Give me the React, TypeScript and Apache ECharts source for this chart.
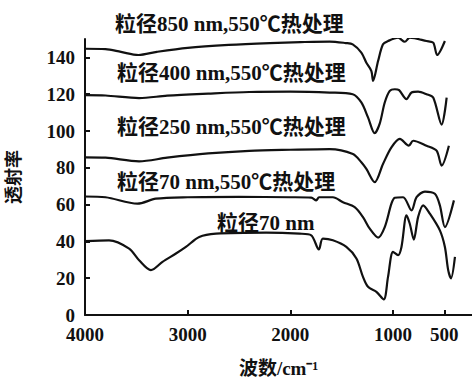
import React, { useEffect, useRef } from "react";
import * as echarts from "echarts";

// wavenumber (cm-1), transmittance
const curve850: [number, number][] = [
  [4000, 144.7], [3800, 144.5], [3650, 143], [3480, 141.3], [3300, 143], [3000, 145.2],
  [2600, 146.8], [2200, 147.8], [1900, 148.3], [1617, 148.6], [1460, 147.8], [1392, 147.1],
  [1308, 142.6], [1259, 137.1], [1210, 132.6], [1194, 127.2], [1145, 138], [1097, 147.1],
  [1048, 148.9], [950, 150.7], [885, 148.5], [836, 150.7], [673, 148.9], [608, 148],
  [569, 141.3], [494, 148.9],
];
const curve400: [number, number][] = [
  [4000, 119.5], [3800, 119.3], [3473, 117.9], [3200, 119.2], [2800, 120.3], [2400, 121.2],
  [2000, 121.4], [1617, 120.9], [1392, 120], [1308, 115.5], [1243, 107.4], [1178, 98.8],
  [1129, 104], [1080, 115.5], [1031, 121.8], [982, 122.7], [940, 122.2], [868, 117.3],
  [819, 120.9], [755, 121.4], [673, 120], [608, 118.2], [526, 103.5], [477, 118.2],
];
const curve250: [number, number][] = [
  [4000, 85.7], [3800, 85.5], [3473, 83.5], [3200, 85.5], [2800, 87.8], [2400, 89.2],
  [2000, 89.8], [1617, 90.2], [1390, 87.5], [1308, 83], [1259, 79.4], [1178, 72.2],
  [1097, 82.1], [1015, 91.1], [933, 95.7], [846, 92], [803, 94.7], [673, 92], [575, 89.3],
  [526, 81.2], [455, 92],
];
const curve70h: [number, number][] = [
  [4000, 64.4], [3800, 64], [3489, 60.5], [3310, 63.2], [3000, 64], [2500, 64.2],
  [2000, 64], [1796, 63.8], [1747, 62.3], [1720, 64], [1585, 64], [1487, 61.3],
  [1373, 58.6], [1292, 53.2], [1226, 46.9], [1145, 42.1], [1080, 47.8], [1015, 60.5],
  [982, 63.7], [901, 64], [819, 56.8], [770, 64], [689, 67.1], [592, 65.9], [543, 59.6],
  [494, 47.8], [406, 62.3],
];
const curve70: [number, number][] = [
  [4000, 40.1], [3766, 40.6], [3570, 36.1], [3473, 29.8], [3358, 24.4], [3245, 28.9],
  [3114, 33.4], [3017, 37], [2887, 42.4], [2724, 44.2], [2235, 44.8], [1910, 44.2],
  [1796, 43.3], [1722, 35.6], [1683, 41.5], [1585, 40.6], [1454, 37], [1356, 30.7],
  [1292, 20.7], [1243, 15.3], [1161, 12.6], [1090, 8.5], [1048, 20.7], [999, 34.3],
  [950, 32.5], [917, 37], [868, 54.1], [836, 49.6], [797, 41], [755, 53.2], [706, 59.6],
  [641, 55.1], [543, 46], [494, 37], [462, 24.4], [435, 19.9], [396, 31.6],
];

const xTicks = [4000, 3000, 2000, 1000, 500];
const curveLabels = [
  "粒径850 nm,550℃热处理",
  "粒径400 nm,550℃热处理",
  "粒径250 nm,550℃热处理",
  "粒径70 nm,550℃热处理",
  "粒径70 nm",
];

const SERIF = '"Liberation Serif", "Noto Sans CJK SC", serif';

export default function App() {
  const ref = useRef<HTMLDivElement>(null);
  useEffect(() => {
    if (!ref.current) return;
    const chart = echarts.init(ref.current, null, { renderer: "svg" });
    const curves = [curve850, curve400, curve250, curve70h, curve70];
    const labelPos = [
      [115, 24],
      [117, 73],
      [117, 127],
      [117, 182],
      [217, 223],
    ];
    chart.setOption({
      animation: false,
      backgroundColor: "#fff",
      grid: { left: 85, right: 0, top: 39, bottom: 64, containLabel: false, outerBoundsMode: "none" },
      xAxis: {
        type: "value",
        inverse: true,
        min: 230,
        max: 4000,
        name: "波数/cm⁻¹",
        nameLocation: "middle",
        nameGap: 44,
        nameTextStyle: { fontSize: 19, fontWeight: "bold", color: "#111", fontFamily: SERIF },
        axisLine: { show: true, lineStyle: { color: "#111", width: 2 } },
        axisTick: {
          show: true,
          inside: true,
          length: 5,
          customValues: xTicks,
          lineStyle: { color: "#111", width: 2 },
        },
        axisLabel: {
          customValues: xTicks,
          formatter: (v: number) => String(v),
          fontSize: 19,
          fontWeight: "bold",
          color: "#111",
          fontFamily: SERIF,
          margin: 10,
        },
        splitLine: { show: false },
      },
      yAxis: {
        type: "value",
        min: 0,
        max: 150,
        interval: 20,
        name: "透射率",
        nameLocation: "middle",
        nameGap: 62,
        nameTextStyle: { fontSize: 18, fontWeight: "bold", color: "#111", fontFamily: SERIF },
        axisLine: { show: true, lineStyle: { color: "#111", width: 2 } },
        axisTick: { show: true, inside: true, length: 5, lineStyle: { color: "#111", width: 2 } },
        axisLabel: {
          formatter: (v: number) => String(v),
          fontSize: 19,
          fontWeight: "bold",
          color: "#111",
          fontFamily: SERIF,
          margin: 10,
        },
        splitLine: { show: false },
      },
      series: curves.map((c, i) => ({
        type: "line",
        name: curveLabels[i],
        data: c,
        smooth: 0.3,
        showSymbol: false,
        lineStyle: { color: "#111", width: 2.2 },
      })),
      graphic: curveLabels.map((t, i) => ({
        type: "text",
        x: labelPos[i][0],
        y: labelPos[i][1],
        style: {
          text: t,
          fill: "#111",
          font: `bold 21px ${SERIF}`,
          textAlign: "left",
          textVerticalAlign: "middle",
        },
      })),
    });
    return () => chart.dispose();
  }, []);
  return (
    <div
      ref={ref}
      style={{ position: "fixed", left: 0, top: 0, width: 472, height: 379, background: "#fff" }}
    />
  );
}
